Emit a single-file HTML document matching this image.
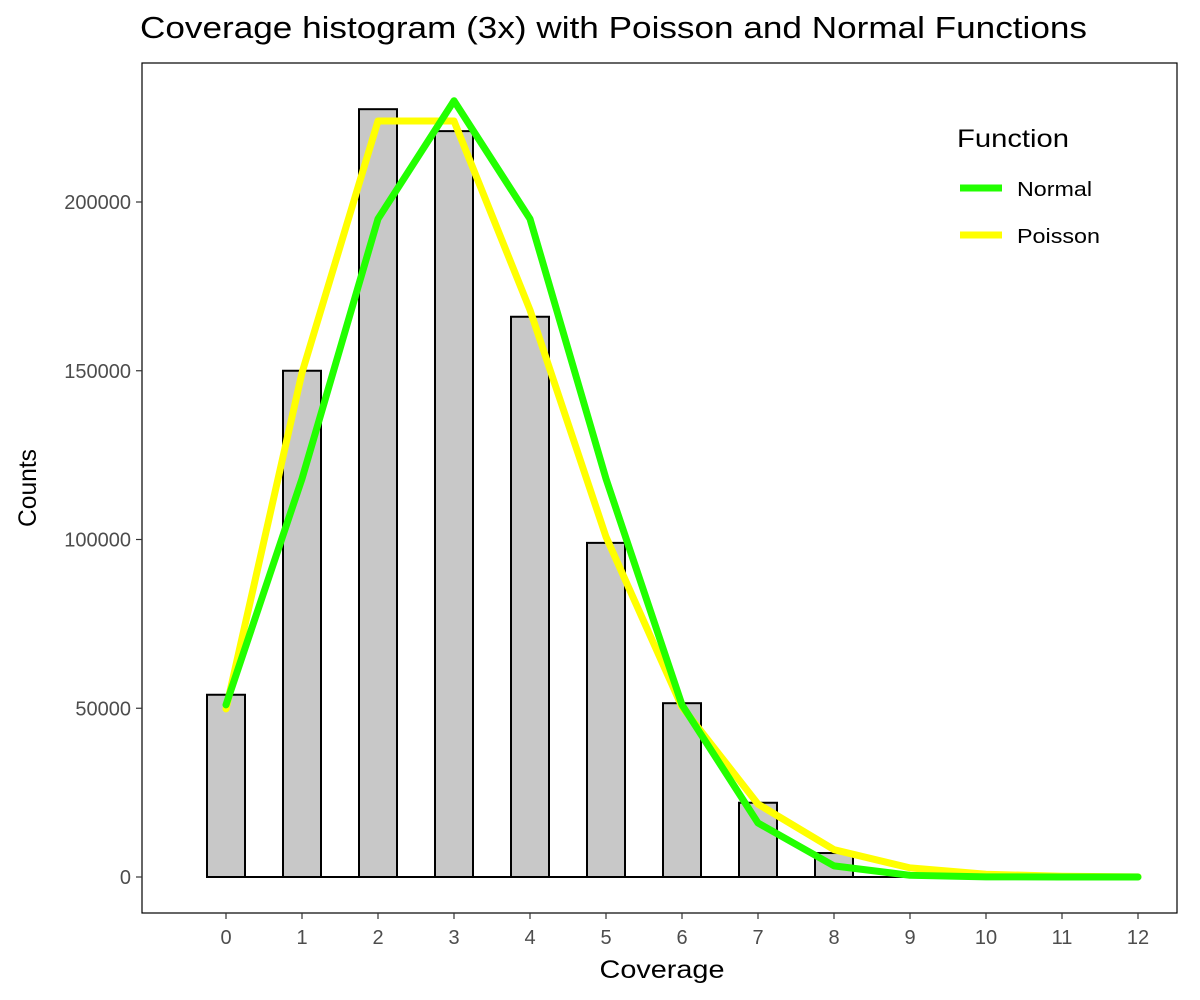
<!DOCTYPE html>
<html><head><meta charset="utf-8"><style>
body{margin:0;background:#fff;font-family:"Liberation Sans",sans-serif}
</style></head><body>
<svg id="chart" width="1200" height="1000" style="display:block">
<text x="140" y="38" font-size="31" fill="#000" textLength="947" lengthAdjust="spacingAndGlyphs">Coverage histogram (3x) with Poisson and Normal Functions</text>
<rect x="142" y="63" width="1035" height="850" fill="none" stroke="#000" stroke-width="1.2"/>
<g id="bars"></g><g id="lines"></g><g id="axes"></g>
<text x="662" y="978" font-size="25" text-anchor="middle" textLength="125" lengthAdjust="spacingAndGlyphs">Coverage</text>
<text transform="translate(36,488) rotate(-90)" font-size="25" text-anchor="middle" textLength="78" lengthAdjust="spacingAndGlyphs">Counts</text>
<g>
<text x="957" y="147" font-size="25" textLength="112" lengthAdjust="spacingAndGlyphs">Function</text>
<line x1="960" y1="188" x2="1002" y2="188" stroke="#22ff00" stroke-width="7"/>
<text x="1017" y="196" font-size="20" textLength="75" lengthAdjust="spacingAndGlyphs">Normal</text>
<line x1="960" y1="235" x2="1002" y2="235" stroke="#ffff00" stroke-width="7"/>
<text x="1017" y="243" font-size="20" textLength="83" lengthAdjust="spacingAndGlyphs">Poisson</text>
</g>
</svg>
<script>
const categories=[0,1,2,3,4,5,6,7,8,9,10,11,12];
const counts=[54000,150000,227500,221000,166000,99000,51500,22000,7100,1000,0,0,0];
const normalVals=[51000,118000,195000,230000,195000,118000,51000,16000,3300,500,50,0,0];
const poissonVals=[49800,149400,224000,224000,168000,100800,50400,21600,8100,2700,810,220,55];
const yTicks=[0,50000,100000,150000,200000];
const NS='http://www.w3.org/2000/svg';
const X=v=>226+v*76, Y=v=>877-v*(675/200000);
function mk(t,a,p){const e=document.createElementNS(NS,t);for(const k in a)e.setAttribute(k,a[k]);p.appendChild(e);return e;}
const bars=document.getElementById('bars'),lines=document.getElementById('lines'),axes=document.getElementById('axes');
categories.forEach((c,i)=>{
  const y=Y(counts[i]);
  const r=mk('rect',{x:X(c)-19,y:y,width:38,height:Math.max(0,877-y),fill:'#c8c8c8',stroke:'#000','stroke-width':2},bars);
  
  
});
const base=mk('line',{x1:X(0)-19,x2:X(12),y1:877,y2:877,stroke:'#000','stroke-width':2},bars);


[[poissonVals,'#ffff00','poisson-line'],[normalVals,'#22ff00','normal-line']].forEach(([vals,col,name])=>{
  const p=mk('polyline',{points:categories.map((c,i)=>X(c)+','+Y(vals[i])).join(' '),fill:'none',stroke:col,'stroke-width':7,'stroke-linejoin':'round','stroke-linecap':'round'},lines);
  
  
});
categories.forEach(c=>{
  mk('line',{x1:X(c),x2:X(c),y1:913,y2:919,stroke:'#333','stroke-width':1.2},axes);
  const t=mk('text',{x:X(c),y:944,'font-size':20,fill:'#4d4d4d','text-anchor':'middle'},axes);
  t.textContent=c;
  
  
});
yTicks.forEach(v=>{
  mk('line',{x1:136,x2:142,y1:Y(v),y2:Y(v),stroke:'#333','stroke-width':1.2},axes);
  const t=mk('text',{x:131,y:Y(v)+7,'font-size':20,fill:'#4d4d4d','text-anchor':'end'},axes);
  t.textContent=v;
  
  
});
</script>
</body></html>
